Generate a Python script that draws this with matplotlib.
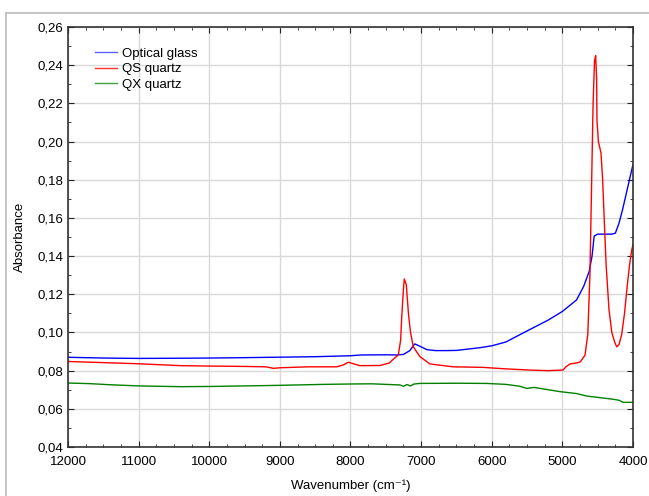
import matplotlib
matplotlib.use('Agg')
import matplotlib.pyplot as plt
from matplotlib.ticker import MultipleLocator, FuncFormatter
from matplotlib.lines import Line2D

plt.rcParams['font.family'] = ['Liberation Sans', 'DejaVu Sans']

# Optical glass (blue)
wn_glass = [12000, 11500, 11000, 10400, 10000, 9500, 9100, 8500, 8000, 7850, 7500, 7350,
            7250, 7160, 7090, 7000, 6920, 6800, 6640, 6500, 6170, 6000, 5800, 5500, 5200,
            5000, 4900, 4800, 4700, 4620, 4580, 4550, 4500, 4400, 4300, 4250, 4200, 4150,
            4100, 4050, 4000]
abs_glass = [0.0870, 0.0866, 0.0864, 0.0865, 0.0866, 0.0868, 0.0870, 0.0873, 0.0878, 0.0882,
             0.0883, 0.0882, 0.0885, 0.0905, 0.0940, 0.0925, 0.0910, 0.0905, 0.0905, 0.0906,
             0.0920, 0.0930, 0.0950, 0.1008, 0.1065, 0.1110, 0.1140, 0.1170, 0.1240, 0.1320,
             0.1400, 0.1505, 0.1515, 0.1515, 0.1515, 0.1520, 0.1570, 0.1640, 0.1720, 0.1800,
             0.1880]

# QS quartz (red)
wn_qs = [12000, 11500, 11000, 10400, 10000, 9500, 9200, 9090, 9000, 8600, 8196, 8100,
         8031, 7950, 7866, 7583, 7450, 7394, 7323, 7290, 7275, 7250, 7238, 7210, 7180,
         7150, 7111, 7016, 6875, 6545, 6120, 5789, 5459, 5200, 4992, 4950, 4892, 4800,
         4750, 4680, 4640, 4610, 4585, 4565, 4545, 4529, 4515, 4510, 4490, 4453, 4430,
         4407, 4380, 4340, 4300, 4260, 4231, 4200, 4160, 4120, 4080, 4050, 4019, 4000]
abs_qs = [0.0848, 0.0842, 0.0836, 0.0826, 0.0824, 0.0822, 0.0820, 0.0812, 0.0815, 0.0820,
          0.0820, 0.0830, 0.0844, 0.0835, 0.0826, 0.0827, 0.0840, 0.0860, 0.0882, 0.0960,
          0.1080, 0.1230, 0.1280, 0.1250, 0.1100, 0.1000, 0.0925, 0.0873, 0.0835, 0.0820,
          0.0817, 0.0809, 0.0803, 0.0800, 0.0803, 0.0820, 0.0835, 0.0840, 0.0845, 0.0880,
          0.0990, 0.1300, 0.1800, 0.2200, 0.2420, 0.2450, 0.2330, 0.2110, 0.2000, 0.1940,
          0.1800, 0.1590, 0.1350, 0.1120, 0.1000, 0.0950, 0.0925, 0.0935, 0.0990, 0.1100,
          0.1250, 0.1350, 0.1430, 0.1460]

# QX quartz (green)
wn_qx = [12000, 11700, 11400, 11000, 10414, 10000, 9500, 9000, 8385, 8000, 7700, 7300,
         7250, 7200, 7150, 7100, 7016, 6500, 6072, 5800, 5600, 5505, 5400, 5200, 5034,
         4800, 4656, 4500, 4279, 4200, 4138, 4000]
abs_qx = [0.0735, 0.0732, 0.0726, 0.0720, 0.0716, 0.0717, 0.0720, 0.0723, 0.0728, 0.0730,
          0.0731, 0.0725, 0.0718, 0.0727, 0.0720, 0.0730, 0.0733, 0.0734, 0.0733, 0.0728,
          0.0718, 0.0707, 0.0712, 0.0700, 0.0690, 0.0680, 0.0667, 0.0660, 0.0650, 0.0645,
          0.0634, 0.0634]

fig = plt.figure(figsize=(6.49, 4.96), dpi=100)
ax = fig.add_axes([68 / 649, 1 - 447 / 496, 565 / 649, 420 / 496])

ax.plot(wn_glass, abs_glass, color='#0000ff', lw=1.0, label='Optical glass')
ax.plot(wn_qs, abs_qs, color='#ff0000', lw=1.0, label='QS quartz')
ax.plot(wn_qx, abs_qx, color='#008000', lw=1.0, label='QX quartz')

ax.set_xlim(12000, 4000)
ax.set_ylim(0.04, 0.26)
ax.xaxis.set_major_locator(MultipleLocator(1000))
ax.xaxis.set_minor_locator(MultipleLocator(250))
ax.yaxis.set_major_locator(MultipleLocator(0.02))
ax.yaxis.set_minor_locator(MultipleLocator(0.01))
ax.yaxis.set_major_formatter(FuncFormatter(lambda v, p: ('%.2f' % v).replace('.', ',')))
ax.tick_params(which='both', direction='in', top=True, right=True, labelsize=9.5,
               colors='#222222', labelcolor='black')
ax.tick_params(which='major', length=4)
ax.tick_params(which='minor', length=2)
ax.tick_params(axis='x', which='major', pad=6.5)
ax.grid(True, which='major', color='#d9d9d9', lw=1.0)
ax.set_axisbelow(True)
for s in ax.spines.values():
    s.set_color('#333333')
    s.set_linewidth(1.2)

ax.set_xlabel('Wavenumber (cm\u207b\u00b9)', fontsize=9.5, labelpad=8)
ax.set_ylabel('Absorbance', fontsize=9.5, labelpad=8)

handles = [Line2D([], [], color='#6060ff', lw=1.0), Line2D([], [], color='#ff3030', lw=1.0),
           Line2D([], [], color='#40a040', lw=1.0)]
ax.legend(handles, ['Optical glass', 'QS quartz', 'QX quartz'], loc='upper left',
          bbox_to_anchor=(0.027, 0.98), frameon=False, fontsize=9.5, handlelength=1.65,
          handletextpad=0.4, labelspacing=0.27)

# outer frame lines (left and top, as in the source image)
fig.add_artist(Line2D([5.5 / 649, 5.5 / 649], [0, 1 - 12.5 / 496], color='#bbbbbb', lw=1.2))
fig.add_artist(Line2D([5.5 / 649, 1], [1 - 12.5 / 496, 1 - 12.5 / 496], color='#bbbbbb', lw=1.2))

plt.savefig('out.png', dpi=100)
